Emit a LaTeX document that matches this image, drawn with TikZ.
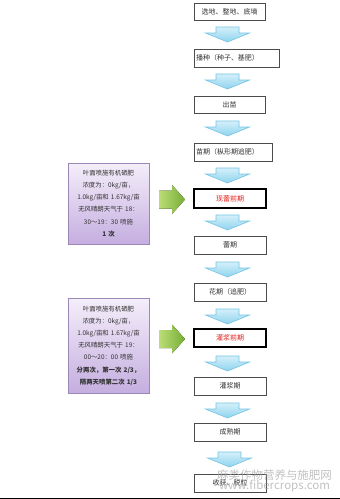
\documentclass[tikz,border=0pt]{standalone}
\usepackage{fontspec}
\setmainfont{Noto Sans CJK SC}
\usetikzlibrary{shadows}
\definecolor{txt}{HTML}{333333}
\definecolor{redtxt}{HTML}{E0201B}
\definecolor{bluefillA}{HTML}{D4F0FA}
\definecolor{bluefillB}{HTML}{8ED3EE}
\definecolor{blueline}{HTML}{74C3E3}
\definecolor{greenA}{HTML}{BCDD78}
\definecolor{greenB}{HTML}{76AE33}
\definecolor{purpA}{HTML}{F4EEFA}
\definecolor{purpB}{HTML}{C5AEE0}
\definecolor{purpline}{HTML}{9A88B6}
\tikzset{
  stage/.style={draw=black!70, line width=0.8pt, fill=white, inner sep=2pt,
    minimum width=72pt, minimum height=18pt, text=txt,
    font=\fontsize{7pt}{8pt}\selectfont},
  keystage/.style={stage, draw=black, line width=1.8pt, text=redtxt},
  notebox/.style={draw=purpline, line width=0.6pt, top color=purpA, bottom color=purpB,
    minimum width=81pt, text width=79pt, align=center, inner sep=1pt, text=txt,
    font=\fontsize{6.4pt}{12.2pt}\selectfont,
    drop shadow={shadow xshift=1pt, shadow yshift=-1pt, opacity=0.25}},
  wmark/.style={text=black!35, opacity=0.7, inner sep=0pt},
  pics/downarr/.style={code={
    \draw[blueline, line width=0.6pt, top color=bluefillA, bottom color=bluefillB]
      (-11.5,0) -- (11.5,0) -- (11.5,6) -- (22,6) -- (0,15) -- (-22,6) -- (-11.5,6) -- cycle;}},
  pics/rightarr/.style={code={
    \fill[left color=greenA, right color=greenB]
      (0,-9) -- (13,-9) -- (13,-14.5) -- (26,0) -- (13,14.5) -- (13,9) -- (0,9) -- cycle;}}
}
\begin{document}
\begin{tikzpicture}[x=1pt,y=-1pt]
\useasboundingbox (0,0) rectangle (340,499);

% main stages
\node[stage, minimum width=71pt, minimum height=17pt] (b1) at (229.5,11.5) {选地、整地、底墒};
\node[stage, minimum width=85pt, text width=81pt, align=left] (b2) at (236.5,58) {播种（种子、基肥）};
\node[stage, minimum width=71pt, minimum height=17pt] (b3) at (229.5,104.5) {出苗};
\node[stage, minimum width=78pt, text width=74pt, align=left] (b4) at (233,152) {苗期（枞形期追肥）};
\node[keystage, minimum height=19pt] (b5) at (230,198.5) {现蕾前期};
\node[stage] (b6) at (230,245) {蕾期};
\node[stage] (b7) at (230,292) {花期（追肥）};
\node[keystage] (b8) at (230,338) {灌浆前期};
\node[stage] (b9) at (230,386) {灌浆期};
\node[stage] (b10) at (230,432) {成熟期};
\node[stage] (b11) at (230,483) {收获、脱粒};

% blue block arrows between stages
\pic at (227.5,27) {downarr};
\pic at (227.5,74) {downarr};
\pic at (227.5,121) {downarr};
\pic at (227.5,168) {downarr};
\pic at (227.5,215) {downarr};
\pic at (227.5,262) {downarr};
\pic at (227.5,309) {downarr};
\pic at (227.5,356) {downarr};
\pic at (227.5,403) {downarr};
\pic at (229.5,452) {downarr};

% notes
\node[notebox, minimum height=81pt] (n1) at (108.5,203.5)
  {叶面喷施有机硒肥\\浓度为：0kg/亩，\\1.0kg/亩和 1.67kg/亩\\无风晴朗天气于 18：\\30～19：30 喷施\\\textbf{1 次}};
\node[notebox, minimum height=95pt] (n2) at (108.5,345.5)
  {叶面喷施有机硒肥\\浓度为：0kg/亩，\\1.0kg/亩和 1.67kg/亩\\无风晴朗天气于 19：\\00～20：00 喷施\\\textbf{分两次，第一次 2/3，}\\\textbf{隔两天喷第二次 1/3}};

% green arrows
\pic at (159,199.5) {rightarr};
\pic at (159,339) {rightarr};

% watermark
\node[wmark, font=\fontsize{11.5pt}{12pt}\selectfont] (wm1) at (274.5,475) {麻类作物营养与施肥网};
\node[wmark, font=\fontsize{11.5pt}{12pt}\selectfont] (wm2) at (274.5,486.5) {www.fibercrops.com};

% bottom rule
\fill[black] (0,497.5) rectangle (340,499);
\end{tikzpicture}
\end{document}
